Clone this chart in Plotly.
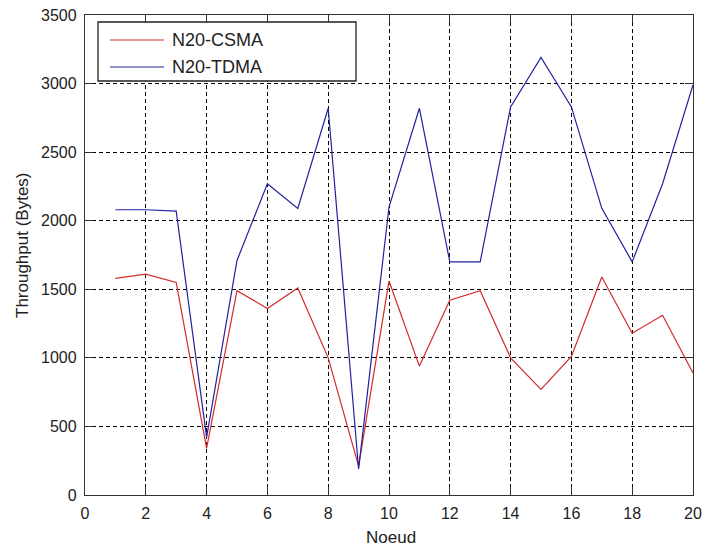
import plotly.graph_objects as go

noeud = list(range(1, 21))
csma = [1580, 1610, 1550, 340, 1490, 1360, 1510, 1000, 210, 1560,
        940, 1420, 1490, 1000, 770, 1010, 1590, 1180, 1310, 890]
tdma = [2080, 2080, 2070, 420, 1710, 2270, 2090, 2820, 190, 2100,
        2820, 1700, 1700, 2830, 3190, 2830, 2090, 1700, 2270, 2990]
series_names = ["N20-CSMA", "N20-TDMA"]
series_colors = ["#d42a2a", "#2222a0"]
x_ticks = [0, 2, 4, 6, 8, 10, 12, 14, 16, 18, 20]
y_ticks = [0, 500, 1000, 1500, 2000, 2500, 3000, 3500]

FONT = "Liberation Sans, Arial, sans-serif"
TXT = "#222222"

fig = go.Figure()
for vals, name, col in zip([csma, tdma], series_names, series_colors):
    fig.add_trace(go.Scatter(x=noeud, y=vals, mode="lines", name=name,
                             line=dict(color=col, width=1.2), showlegend=False))

axis_common = dict(
    showline=True, linecolor="#333333", linewidth=1.3, mirror="allticks",
    ticks="inside", ticklen=8, tickcolor="#333333", tickwidth=1,
    showgrid=True, gridcolor="black", gridwidth=1, griddash="4px,3px",
    zeroline=False, automargin=False,
    tickfont=dict(family=FONT, size=16, color=TXT),
)

fig.update_xaxes(range=[0, 20], tickvals=x_ticks, ticklabelstandoff=4, **axis_common)
fig.update_yaxes(range=[0, 3500], tickvals=y_ticks, ticklabelstandoff=4, **axis_common)

# axis titles
fig.add_annotation(text="Noeud", xref="paper", yref="paper", x=(391 - 85) / 608, y=(495 - 537) / 480,
                   showarrow=False, xanchor="center", yanchor="middle",
                   font=dict(family=FONT, size=17, color=TXT))
fig.add_annotation(text="Throughput (Bytes)", xref="paper", yref="paper", x=(23 - 85) / 608, y=(495 - 245) / 480,
                   showarrow=False, xanchor="center", yanchor="middle", textangle=-90,
                   font=dict(family=FONT, size=17, color=TXT))

# legend box (drawn manually to match the reference size)
fig.add_shape(type="rect", xref="paper", yref="paper",
              x0=(98 - 85) / 608, x1=(356 - 85) / 608, y0=(495 - 81) / 480, y1=(495 - 22) / 480,
              line=dict(color="#222222", width=1.3), fillcolor="white", layer="above")
row_y = [40, 67]
for ry, name, col in zip(row_y, series_names, series_colors):
    yy = (495 - ry) / 480
    fig.add_shape(type="line", xref="paper", yref="paper",
                  x0=(110 - 85) / 608, x1=(164 - 85) / 608, y0=yy, y1=yy,
                  line=dict(color=col, width=1.2), layer="above")
    fig.add_annotation(text=name, xref="paper", yref="paper", x=(170 - 85) / 608, y=yy,
                       showarrow=False, xanchor="left", yanchor="middle",
                       font=dict(family=FONT, size=18, color=TXT))

fig.update_layout(
    width=705, height=551,
    margin=dict(l=85, r=12, t=15, b=56),
    paper_bgcolor="white", plot_bgcolor="white",
    showlegend=False,
)

fig.write_html("out.html", config={"displayModeBar": False},
               post_script="document.body.style.margin='0';document.body.style.overflow='hidden';")
